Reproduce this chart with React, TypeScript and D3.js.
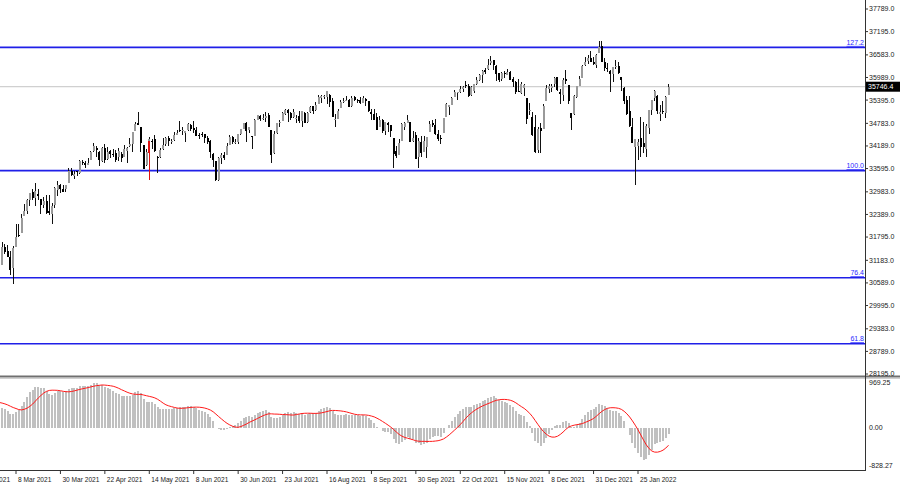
import React from "react";
import * as d3 from "d3";

// closes before the first visible bar (Nov 2020 – 24 Feb 2021), used only to warm up the MACD
const warmupCloses = [
  26925, 27480, 27847, 28390, 28323, 29158, 29421, 29398, 29080, 29480,
  29950, 29784, 29438, 29483, 29263, 29591, 30046, 29873, 29910, 29639,
  29824, 29884, 29970, 30218, 30070, 30174, 30069, 29999, 30046, 29862,
  30199, 30155, 30304, 30180, 30216, 30015, 30129, 30200, 30404, 30336,
  30410, 30606, 30224, 30392, 30829, 31041, 31098, 31009, 31069, 31061,
  31000, 30814, 30930, 31188, 31176, 30997, 30960, 30937, 30303, 30603,
  29983, 30212, 30687, 30724, 31056, 31148, 31386, 31375, 31438, 31431,
  31458, 31523, 31613, 31494, 31494, 31522, 31537, 31962,
];

// daily bars [open, high, low, close], 25 Feb 2021 – 9 Feb 2022
const ohlc: [number, number, number, number][] = [
  [31962, 31980, 31355, 31402], [31450, 31545, 30863, 30932], [31066, 31653, 31066, 31536], [31536, 31625, 31350, 31391],
  [31439, 31586, 31266, 31270], [31262, 31440, 30810, 30924], [30980, 31568, 30548, 31496],
  [31537, 32150, 31537, 31802], [31859, 32150, 31800, 31832], [31896, 32389, 31896, 32297], [32355, 32661, 32355, 32485],
  [32480, 32793, 32408, 32779], [32761, 32955, 32612, 32953], [32986, 33047, 32764, 32825], [32826, 33227, 32615, 33015],
  [32933, 33070, 32780, 32862], [32790, 32800, 32410, 32628], [32630, 32850, 32560, 32731], [32735, 32900, 32400, 32423],
  [32470, 32900, 32380, 32420], [32390, 32700, 32130, 32619], [32640, 33098, 32570, 33072], [33040, 33260, 32870, 33171],
  [33150, 33180, 32960, 33066], [33070, 33170, 32970, 32982], [33050, 33170, 32990, 33153], [33222, 33617, 33222, 33527],
  [33530, 33600, 33400, 33430], [33400, 33530, 33330, 33446], [33530, 33540, 33390, 33504], [33480, 33810, 33460, 33800],
  [33760, 33830, 33680, 33745], [33730, 33790, 33600, 33677], [33700, 33880, 33690, 33730], [33830, 34050, 33830, 34036],
  [34060, 34257, 34040, 34200], [34140, 34180, 33900, 34078], [34040, 34050, 33670, 33821], [33800, 34160, 33780, 34137],
  [34140, 34250, 33740, 33815], [33840, 34150, 33830, 34043], [34050, 34080, 33880, 33982], [33990, 34100, 33900, 33984],
  [34000, 34080, 33760, 33820], [33900, 34130, 33800, 34060], [33970, 34030, 33780, 33875], [33904, 34210, 33904, 34113],
  [34060, 34150, 33740, 34133], [34200, 34390, 34160, 34230], [34240, 34550, 34020, 34548], [34580, 34811, 34580, 34778],
  [34800, 35091, 34740, 34743], [34700, 34700, 34040, 34270], [34210, 34210, 33580, 33587], [33680, 34100, 33660, 34021],
  [34070, 34420, 34050, 34382], [34330, 34380, 34100, 34327], [34370, 34470, 34030, 34061], [33900, 33930, 33470, 33896],
  [33890, 34140, 33860, 34084], [34110, 34400, 34090, 34208], [34250, 34420, 34200, 34394], [34400, 34460, 34200, 34313],
  [34310, 34380, 34230, 34323], [34340, 34550, 34320, 34465], [34490, 34620, 34480, 34529], [34600, 34850, 34550, 34575],
  [34590, 34680, 34490, 34600], [34540, 34580, 34300, 34577], [34620, 34800, 34590, 34756], [34740, 34770, 34590, 34630],
  [34650, 34850, 34520, 34599], [34610, 34690, 34440, 34447], [34480, 34530, 34370, 34466], [34500, 34560, 34420, 34480],
  [34500, 34510, 34270, 34393], [34400, 34450, 34240, 34299], [34310, 34340, 33880, 34033], [33990, 34000, 33640, 33823],
  [33800, 33800, 33270, 33290], [33300, 33890, 33280, 33876], [33870, 34000, 33710, 33945], [33940, 34020, 33820, 33874],
  [33950, 34260, 33950, 34196], [34220, 34470, 34220, 34433], [34430, 34450, 34250, 34283], [34290, 34380, 34250, 34292],
  [34280, 34510, 34250, 34502], [34510, 34640, 34480, 34633], [34640, 34790, 34640, 34786], [34800, 34820, 34300, 34577],
  [34620, 34700, 34520, 34681], [34460, 34460, 34100, 34421], [34460, 34890, 34460, 34870], [34870, 35000, 34860, 34996],
  [34980, 35010, 34850, 34889], [34920, 35020, 34860, 34933], [34930, 35090, 34830, 34987], [35000, 35060, 34680, 34688],
  [34600, 34600, 33740, 33962], [34000, 34580, 33990, 34511], [34530, 34800, 34500, 34798], [34790, 34860, 34700, 34823],
  [34850, 35080, 34850, 35061], [35020, 35150, 34990, 35144], [35140, 35150, 34820, 35058], [35060, 35090, 34860, 34930],
  [34960, 35170, 34930, 35085], [34920, 35000, 34800, 34935], [34980, 35100, 34800, 34838], [34850, 35120, 34700, 35116],
  [35050, 35070, 34780, 34793], [34830, 35070, 34800, 35065], [35090, 35240, 35050, 35209], [35230, 35240, 35030, 35101],
  [35130, 35350, 35110, 35264], [35290, 35520, 35290, 35485], [35460, 35530, 35320, 35500], [35500, 35540, 35420, 35515],
  [35480, 35630, 35300, 35625], [35540, 35550, 35200, 35343], [35370, 35440, 34950, 34961], [34880, 35020, 34690, 34894],
  [34900, 35160, 34890, 35120], [35180, 35390, 35180, 35336], [35360, 35450, 35320, 35367], [35380, 35490, 35360, 35406],
  [35400, 35420, 35200, 35214], [35230, 35500, 35220, 35456], [35470, 35500, 35360, 35400], [35410, 35430, 35310, 35361],
  [35400, 35480, 35300, 35313], [35330, 35510, 35320, 35444], [35430, 35440, 35250, 35369], [35360, 35370, 35080, 35100],
  [35080, 35150, 34860, 35031], [35040, 35160, 34870, 34880], [34950, 35050, 34600, 34608], [34700, 34980, 34690, 34870],
  [34870, 34900, 34520, 34578], [34580, 34830, 34480, 34814], [34790, 34830, 34550, 34751], [34730, 34740, 34420, 34585],
  [34400, 34400, 33610, 33970], [34050, 34200, 33870, 33919], [33960, 34370, 33960, 34258], [34310, 34790, 34310, 34765],
  [34700, 34830, 34600, 34798], [34800, 35000, 34790, 34870], [34830, 34830, 34280, 34300], [34330, 34570, 34290, 34390],
  [34470, 34560, 33840, 33844], [33890, 34400, 33610, 34326], [34280, 34460, 33890, 34002], [34020, 34460, 34020, 34315],
  [34170, 34430, 33860, 34417], [34560, 34850, 34560, 34755], [34780, 34870, 34680, 34746], [34750, 34890, 34490, 34496],
  [34510, 34600, 34330, 34378], [34390, 34490, 34250, 34377], [34520, 34930, 34520, 34912], [34940, 35310, 34940, 35295],
  [35200, 35260, 35010, 35259], [35270, 35480, 35260, 35457], [35470, 35670, 35470, 35609], [35580, 35620, 35410, 35603],
  [35620, 35760, 35590, 35677], [35690, 35770, 35600, 35741], [35790, 35890, 35700, 35756], [35760, 35820, 35480, 35490],
  [35520, 35760, 35510, 35731], [35640, 35820, 35580, 35820], [35830, 36000, 35780, 35913], [35930, 36070, 35890, 36053],
  [36050, 36180, 35850, 36158], [36180, 36250, 36070, 36124], [36220, 36470, 36190, 36328], [36360, 36565, 36330, 36432],
  [36440, 36460, 36190, 36320], [36300, 36330, 35900, 36080], [36100, 36110, 35880, 35921], [35960, 36130, 35900, 36100],
  [36100, 36170, 35980, 36087], [36060, 36220, 36060, 36142], [36120, 36150, 35920, 35931], [35960, 35990, 35750, 35871],
  [35870, 35890, 35560, 35602], [35630, 35960, 35600, 35619], [35580, 35880, 35560, 35814], [35720, 35830, 35500, 35804],
  [35460, 35460, 34760, 34899], [35100, 35330, 34990, 35135], [34950, 35090, 34440, 34484], [34700, 34990, 34010, 34022],
  [34070, 34680, 34010, 34640], [34660, 34800, 34000, 34580], [34630, 35300, 34630, 35227], [35380, 35800, 35380, 35719],
  [35690, 35810, 35580, 35754], [35720, 35810, 35620, 35754], [35810, 36000, 35740, 35971], [35990, 36000, 35630, 35650],
  [35600, 35690, 35300, 35544], [35530, 35980, 35370, 35927], [35950, 36190, 35830, 35898], [35800, 35800, 35290, 35365],
  [35060, 35060, 34620, 34932], [35020, 35520, 35010, 35493], [35480, 35760, 35440, 35754], [35770, 36020, 35760, 35950],
  [35970, 36310, 35970, 36302], [36320, 36530, 36300, 36398], [36420, 36570, 36350, 36488], [36490, 36680, 36400, 36398],
  [36400, 36520, 36320, 36338], [36320, 36600, 36250, 36585], [36640, 36935, 36640, 36800], [36820, 36950, 36400, 36408],
  [36400, 36500, 36150, 36236], [36250, 36380, 36120, 36231], [36170, 36180, 35610, 36068], [36070, 36270, 35860, 36252],
  [36280, 36440, 36210, 36290], [36300, 36400, 36070, 36114], [36000, 36000, 35630, 35912], [35720, 35740, 35300, 35369],
  [35400, 35510, 35000, 35029], [35100, 35510, 34690, 34715], [34700, 34920, 34260, 34265], [34150, 34380, 33150, 34364],
  [34200, 34380, 33830, 34298], [34400, 34940, 33900, 34168], [34270, 34810, 34000, 34161], [34100, 34760, 33900, 34725],
  [34670, 35140, 34500, 35132], [35130, 35410, 35000, 35405], [35450, 35670, 35380, 35629], [35510, 35540, 35040, 35111],
  [35040, 35270, 34840, 35089], [35120, 35380, 35040, 35091], [35050, 35490, 34930, 35463], [35530, 35830, 35530, 35746],
];
const firstBarIndex = -7; // bar index of ohlc[0], counted from 8 Mar 2021

const xTickLabels = [
  "11 Feb 2021", "8 Mar 2021", "30 Mar 2021", "22 Apr 2021", "14 May 2021", "8 Jun 2021",
  "30 Jun 2021", "23 Jul 2021", "16 Aug 2021", "8 Sep 2021", "30 Sep 2021", "22 Oct 2021",
  "15 Nov 2021", "8 Dec 2021", "31 Dec 2021", "25 Jan 2022",
];
const xTickFirstIndex = -16;
const xTickStep = 16;

const priceTicks = [37789, 37195, 36583, 35989, 35395, 34783, 34189, 33595, 32983, 32389, 31795, 31183, 30589, 29995, 29383, 28789, 28195];
const fibLabels = ["127.2", "100.0", "76.4", "61.8"];
const fibValues = [36780, 33540, 30725, 28990];
const lastPrice = 35746.4;
const macdTicks = [969.25, 0, -828.27];
const macdFast = 10;
const macdSlow = 40;
const macdSignal = 9;
// red highlighted bar (index, high, low, body top, body bottom)
const redBar = [48, 34330, 33300, 34330, 34000];

const FONT = "'Liberation Sans', Arial, sans-serif";

function ema(arr: number[], n: number) {
  const k = 2 / (n + 1);
  const out: number[] = [];
  let e = arr[0];
  arr.forEach((v, i) => {
    e = i === 0 ? v : v * k + e * (1 - k);
    out.push(e);
  });
  return out;
}

export default function App() {
  const plotR = 865;
  const x = d3.scaleLinear().domain([0, 224]).range([16, 638]);
  const y = d3.scaleLinear().domain([28195, 37789]).range([374, 9]);
  const yM = d3.scaleLinear().domain([-828.27, 969.25]).range([466, 383]);

  const all = [...warmupCloses, ...ohlc.map((d) => d[3])];
  const eF = ema(all, macdFast);
  const eS = ema(all, macdSlow);
  const macdAll = eF.map((v, i) => v - eS[i]);
  const sigAll = macdAll.map((_, i) =>
    i < macdSignal - 1 ? macdAll[i] : (d3.mean(macdAll.slice(i - macdSignal + 1, i + 1)) as number)
  );
  const off = warmupCloses.length;
  const macd = macdAll.slice(off);
  const signal = sigAll.slice(off);

  const bx = (i: number) => x(firstBarIndex + i);
  const sigLine = d3
    .line<number>()
    .x((_, i) => bx(i))
    .y((d) => yM(d));

  return (
    <svg width={900} height={485} style={{ position: "absolute", left: 0, top: 0, background: "#fff" }} fontFamily={FONT}>
      <defs>
        <clipPath id="plot">
          <rect x={0} y={0} width={plotR} height={376} />
        </clipPath>
        <clipPath id="macd">
          <rect x={0} y={379} width={plotR} height={91} />
        </clipPath>
      </defs>

      {/* bid line */}
      <line x1={0} x2={plotR} y1={y(lastPrice)} y2={y(lastPrice)} stroke="#c4c4c4" strokeWidth={1} />

      {/* fib levels */}
      {fibValues.map((v, i) => (
        <g key={"f" + i}>
          <line x1={0} x2={plotR} y1={y(v)} y2={y(v)} stroke="#1f1fe8" strokeWidth={1.6} />
          <text x={plotR - 1} y={y(v) - 2.5} textAnchor="end" fontSize={7} fill="#2a2aff" textDecoration="underline">
            {fibLabels[i]}
          </text>
        </g>
      ))}

      {/* candles */}
      <g clipPath="url(#plot)" shapeRendering="crispEdges">
        {ohlc.map((d, i) => {
          const [o, h, l, c] = d;
          const cx = bx(i);
          const bull = c >= o;
          const top = y(Math.max(o, c));
          const bot = y(Math.min(o, c));
          return (
            <g key={i}>
              <line x1={cx} x2={cx} y1={y(h)} y2={y(l)} stroke="#111" strokeWidth={1} />
              <rect x={cx - 1} y={top} width={2} height={Math.max(1, bot - top)} fill={bull ? "#9a9a9a" : "#000"} />
            </g>
          );
        })}
        <line x1={x(redBar[0])} x2={x(redBar[0])} y1={y(redBar[1])} y2={y(redBar[2])} stroke="#e01010" strokeWidth={1} />
        <rect x={x(redBar[0]) - 1} y={y(redBar[3])} width={2} height={y(redBar[4]) - y(redBar[3])} fill="#e01010" />
      </g>

      {/* MACD */}
      <g clipPath="url(#macd)">
        <g shapeRendering="crispEdges">
          {macd.map((v, i) => {
            const y0 = yM(0);
            const y1 = yM(v);
            return <rect key={i} x={bx(i) - 1} y={Math.min(y0, y1)} width={2} height={Math.abs(y1 - y0)} fill="#c0c0c0" />;
          })}
        </g>
        <path d={sigLine(signal) || ""} fill="none" stroke="#ff1a1a" strokeWidth={1} />
      </g>

      {/* frames */}
      <rect x={0} y={375.5} width={900} height={2} fill="#707070" />
      <line x1={0} x2={900} y1={378.5} y2={378.5} stroke="#d0d0d0" />
      <line x1={plotR + 0.5} x2={plotR + 0.5} y1={0} y2={471} stroke="#333" />
      <line x1={0} x2={plotR + 1} y1={470.5} y2={470.5} stroke="#333" />

      {/* price axis */}
      {priceTicks.map((v) => (
        <g key={"p" + v}>
          <line x1={plotR} x2={plotR + 3} y1={y(v)} y2={y(v)} stroke="#333" />
          <text x={869} y={y(v)} dy="0.35em" fontSize={7} fill="#222">
            {v.toFixed(1)}
          </text>
        </g>
      ))}
      <rect x={866} y={y(lastPrice) - 5} width={34} height={10} fill="#000" />
      <text x={868} y={y(lastPrice)} dy="0.35em" fontSize={7} fill="#fff">
        {lastPrice.toFixed(1)}
      </text>

      {/* MACD axis */}
      {macdTicks.map((v) => (
        <text key={"m" + v} x={869} y={yM(v)} dy="0.35em" fontSize={7} fill="#222">
          {v.toFixed(2)}
        </text>
      ))}

      {/* time axis */}
      {xTickLabels.map((t, k) => {
        const tx = x(xTickFirstIndex + k * xTickStep);
        return (
          <g key={t}>
            <line x1={tx} x2={tx} y1={470} y2={474} stroke="#333" />
            <text x={tx + 2} y={480} dy="0.3em" fontSize={6.6} fill="#222">
              {t}
            </text>
          </g>
        );
      })}
    </svg>
  );
}
